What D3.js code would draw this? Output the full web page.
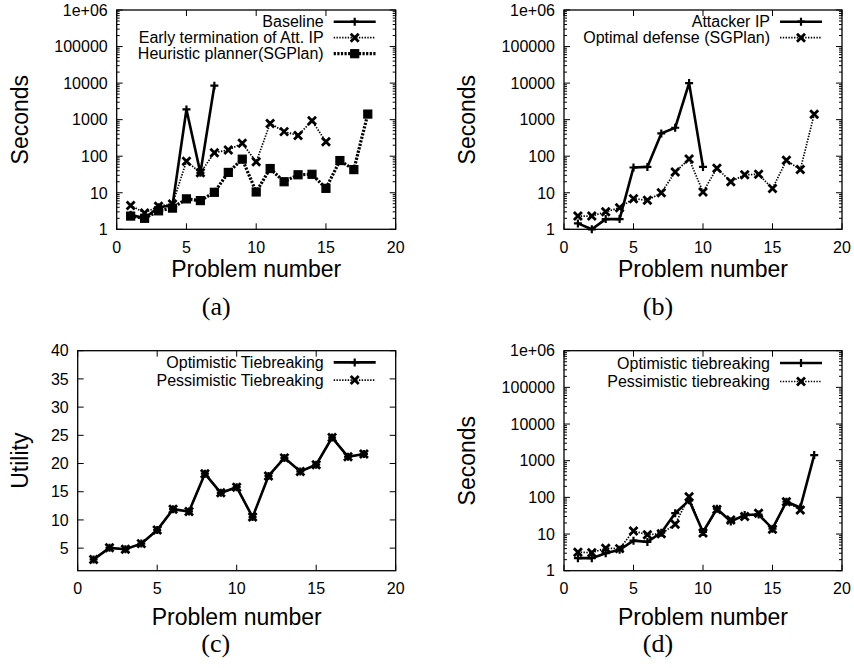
<!DOCTYPE html>
<html>
<head>
<meta charset="utf-8">
<script src="https://cdn.jsdelivr.net/npm/d3@7"></script>
<style>
  body { margin: 0; background: #fff; }
  text { font-family: "Liberation Sans", Arial, sans-serif; fill: #000; }
  .caption { font-family: "Liberation Serif", "Times New Roman", serif; }
</style>
</head>
<body>
<svg id="chart" width="854" height="668"></svg>
<script>
// problem numbers on the x axis
const problemNumbers = [1, 2, 3, 4, 5, 6, 7, 8, 9, 10, 11, 12, 13, 14, 15, 16, 17, 18];
const xTickValues = [0, 5, 10, 15, 20];
const logTickValues = [1, 10, 100, 1000, 10000, 100000, 1000000];
const logTickLabels = ["1", "10", "100", "1000", "10000", "100000", "1e+06"];
const utilityTickValues = [5, 10, 15, 20, 25, 30, 35, 40];

// (a) seconds
const baselineA = [2.5, 2.0, 4.0, 4.5, 1900, 35, 8500];
const earlyTermA = [4.5, 2.8, 4.3, 4.9, 73, 35, 125, 148, 225, 70, 790, 470, 370, 930, 248];
const heuristicA = [2.3, 2.0, 3.2, 3.8, 6.8, 6.1, 10.3, 36, 83, 10.5, 46, 20, 31, 32, 13.2, 76, 43, 1420];

// (b) seconds
const attackerB = [1.45, 1.0, 1.9, 1.9, 49, 51, 420, 600, 10000, 51];
const optimalB = [2.3, 2.3, 3.0, 3.9, 6.9, 6.2, 10, 37, 84, 10.5, 47, 20, 31, 32, 13, 77, 43, 1400];

// (c) utility
const optimisticC = [3.0, 5.05, 4.8, 5.8, 8.2, 11.9, 11.5, 18.2, 14.8, 15.8, 10.5, 17.8, 21.0, 18.6, 19.8, 24.6, 21.2, 21.7];
const pessimisticC = [3.0, 5.05, 4.8, 5.8, 8.2, 11.9, 11.5, 18.2, 14.8, 15.8, 10.5, 17.8, 21.0, 18.6, 19.8, 24.6, 21.2, 21.7];

// (d) seconds
const optimisticD = [2.2, 2.2, 3.0, 3.7, 6.6, 6.1, 10.9, 37, 83, 11.4, 49, 22, 33, 34, 14, 76, 53, 1420];
const pessimisticD = [3.2, 3.1, 4.1, 4.0, 12.1, 9.6, 10.2, 18.5, 104, 10.6, 47, 24, 30, 37, 13.5, 76, 45];

// gnuplot-like line styles
const styles = {
    solid:  { width: 2.6, dash: null, marker: "plus" },
    dotted: { width: 1.7, dash: "1.4,1.4", marker: "cross" },
    dashed: { width: 3.2, dash: "2.2,1.4", marker: "square" }
};

const svg = d3.select("#chart");

function drawMarker(g, type, x, y) {
    if (type === "plus") {
        g.append("path")
            .attr("d", `M${x - 4},${y}H${x + 4}M${x},${y - 4}V${y + 4}`)
            .attr("stroke", "#000").attr("stroke-width", 2.2);
    } else if (type === "cross") {
        g.append("path")
            .attr("d", `M${x - 4},${y - 4}L${x + 4},${y + 4}M${x - 4},${y + 4}L${x + 4},${y - 4}`)
            .attr("stroke", "#000").attr("stroke-width", 2.8);
    } else {
        g.append("rect")
            .attr("x", x - 4).attr("y", y - 4)
            .attr("width", 8).attr("height", 8)
            .attr("fill", "#000").attr("stroke", "#000").attr("stroke-width", 1.2);
    }
}

function drawPanel(p) {
    const g = svg.append("g");
    const x = d3.scaleLinear().domain([0, 20]).range([p.left, p.right]);
    const y = (p.log ? d3.scaleLog() : d3.scaleLinear()).domain(p.yDomain).range([p.bottom, p.top]);

    // ticks (inward, mirrored on all sides)
    const tickG = g.append("g").attr("stroke", "#000").attr("stroke-width", 1);
    xTickValues.forEach(v => {
        tickG.append("line").attr("x1", x(v)).attr("x2", x(v)).attr("y1", p.bottom).attr("y2", p.bottom - 6);
        tickG.append("line").attr("x1", x(v)).attr("x2", x(v)).attr("y1", p.top).attr("y2", p.top + 6);
        g.append("text").attr("x", x(v)).attr("y", p.xTickY)
            .attr("text-anchor", "middle").attr("font-size", "16px").text(v);
    });

    p.yTicks.forEach((v, i) => {
        tickG.append("line").attr("x1", p.left).attr("x2", p.left + 6).attr("y1", y(v)).attr("y2", y(v));
        tickG.append("line").attr("x1", p.right).attr("x2", p.right - 6).attr("y1", y(v)).attr("y2", y(v));
        g.append("text").attr("x", p.left - 9).attr("y", y(v)).attr("dy", "0.36em")
            .attr("text-anchor", "end").attr("font-size", "16px").text(p.yLabels[i]);
    });

    if (p.log) {
        // minor ticks at 2..9 of every decade
        p.yTicks.slice(0, -1).forEach(dec => {
            for (let k = 2; k <= 9; k++) {
                const yy = y(dec * k);
                tickG.append("line").attr("x1", p.left).attr("x2", p.left + 3).attr("y1", yy).attr("y2", yy);
                tickG.append("line").attr("x1", p.right).attr("x2", p.right - 3).attr("y1", yy).attr("y2", yy);
            }
        });
    }

    // border
    g.append("rect")
        .attr("x", p.left).attr("y", p.top)
        .attr("width", p.right - p.left).attr("height", p.bottom - p.top)
        .attr("fill", "none").attr("stroke", "#000").attr("stroke-width", 1.3);

    // series
    const line = d3.line().x(d => x(d[0])).y(d => y(d[1]));
    p.series.forEach(s => {
        const st = styles[s.style];
        const pts = s.values.map((v, i) => [problemNumbers[i], v]);
        g.append("path")
            .attr("d", line(pts))
            .attr("fill", "none").attr("stroke", "#000")
            .attr("stroke-width", st.width)
            .attr("stroke-dasharray", st.dash)
            .attr("stroke-linejoin", "miter");
        const mg = g.append("g");
        pts.forEach(d => drawMarker(mg, st.marker, x(d[0]), y(d[1])));
    });

    // legend
    p.series.forEach((s, i) => {
        const st = styles[s.style];
        const ly = p.top + p.legendTop + i * p.legendStep;
        g.append("text").attr("x", p.right - 72).attr("y", ly).attr("dy", "0.36em")
            .attr("text-anchor", "end").attr("font-size", "16px").text(s.name);
        g.append("line")
            .attr("x1", p.right - 62).attr("x2", p.right - 20)
            .attr("y1", ly).attr("y2", ly)
            .attr("stroke", "#000").attr("stroke-width", st.width)
            .attr("stroke-dasharray", st.dash);
        drawMarker(g, st.marker, p.right - 41, ly);
    });

    // axis titles
    g.append("text")
        .attr("transform", `translate(${p.yTitleX},${(p.top + p.bottom) / 2}) rotate(-90)`)
        .attr("text-anchor", "middle").attr("font-size", "23px").text(p.yTitle);
    g.append("text")
        .attr("x", (p.left + p.right) / 2).attr("y", p.xTitleY)
        .attr("text-anchor", "middle").attr("font-size", "23px").text("Problem number");

    // caption
    g.append("text").attr("class", "caption")
        .attr("x", (p.left + p.right) / 2 + p.captionShift).attr("y", p.captionY)
        .attr("text-anchor", "middle").attr("font-size", "26px").text(p.caption);
}

drawPanel({
    left: 116.7, right: 395.7, top: 10, bottom: 229.3, log: true,
    yDomain: [1, 1000000], yTicks: logTickValues, yLabels: logTickLabels,
    yTitle: "Seconds", yTitleX: 28, xTickY: 253, xTitleY: 276.5,
    legendTop: 11.7, legendStep: 16,
    caption: "(a)", captionY: 315, captionShift: -40,
    series: [
        { name: "Baseline", values: baselineA, style: "solid" },
        { name: "Early termination of Att. IP", values: earlyTermA, style: "dotted" },
        { name: "Heuristic planner(SGPlan)", values: heuristicA, style: "dashed" }
    ]
});

drawPanel({
    left: 564, right: 842, top: 10, bottom: 229.3, log: true,
    yDomain: [1, 1000000], yTicks: logTickValues, yLabels: logTickLabels,
    yTitle: "Seconds", yTitleX: 475, xTickY: 253, xTitleY: 276.5,
    legendTop: 11.7, legendStep: 16,
    caption: "(b)", captionY: 315, captionShift: -45,
    series: [
        { name: "Attacker IP", values: attackerB, style: "solid" },
        { name: "Optimal defense (SGPlan)", values: optimalB, style: "dotted" }
    ]
});

drawPanel({
    left: 77.7, right: 395.7, top: 350.7, bottom: 570.7, log: false,
    yDomain: [1, 40], yTicks: utilityTickValues, yLabels: utilityTickValues.map(String),
    yTitle: "Utility", yTitleX: 28, xTickY: 594, xTitleY: 625,
    legendTop: 11.7, legendStep: 17.7,
    caption: "(c)", captionY: 652, captionShift: -21,
    series: [
        { name: "Optimistic Tiebreaking", values: optimisticC, style: "solid" },
        { name: "Pessimistic Tiebreaking", values: pessimisticC, style: "dotted" }
    ]
});

drawPanel({
    left: 564, right: 842, top: 350.7, bottom: 570.7, log: true,
    yDomain: [1, 1000000], yTicks: logTickValues, yLabels: logTickLabels,
    yTitle: "Seconds", yTitleX: 475, xTickY: 594, xTitleY: 625,
    legendTop: 12.3, legendStep: 18.5,
    caption: "(d)", captionY: 652, captionShift: -45,
    series: [
        { name: "Optimistic tiebreaking", values: optimisticD, style: "solid" },
        { name: "Pessimistic tiebreaking", values: pessimisticD, style: "dotted" }
    ]
});
</script>
</body>
</html>
